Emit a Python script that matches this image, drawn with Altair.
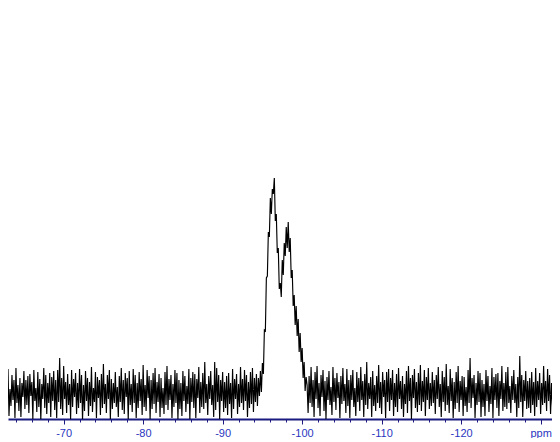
import altair as alt
import pandas as pd

# ppm grid of the spectrum (start value and spacing)
ppm_start = -62.5
ppm_step = 0.125

# baseline noise left of the resonance (-62.5 ... -94.375 ppm)
noise_left = [
    6, -16, 19, -10, 23, -24, 3, -14, 17, -8, 12, -26, 24, -11, 7, -19,
    14, -25, 9, -5, 21, -17, 12, -13, 16, -21, 18, -4, 10, -27, 22, -9,
    4, -20, 20, -15, 13, -28, 8, -7, 24, -16, 17, -22, 9, -11, 19, -25,
    15, -9, 21, -18, 12, -26, 22, -10, 34, -17, 14, -23, 26, -7, 10, -21,
    18, -13, 8, -27, 22, -15, 13, -5, 19, -22, 9, -16, 23, -11, 17, -28,
    7, -19, 21, -9, 14, -24, 10, -14, 25, -20, 4, -10, 20, -26, 15, -6,
    12, -23, 18, -16, 28, -12, 8, -21, 17, -7, 22, -27, 13, -17, 9, -11,
    20, -15, 5, -25, 16, -10, 24, -18, 12, -22, 19, -5, 14, -28, 21, -13,
    8, -20, 23, -11, 17, -26, 9, -16, 20, -9, 13, -23, 27, -15, 7, -19,
    22, -6, 16, -27, 12, -17, 19, -12, 24, -21, 10, -10, 18, -25, 14, -16,
    4, -22, 20, -13, 26, -18, 13, -8, 17, -26, 8, -15, 22, -11, 19, -27,
    12, -17, 9, -24, 21, -9, 16, -20, 6, -12, 23, -28, 14, -10, 20, -16,
    18, -26, 13, -6, 25, -21, 10, -15, 19, -17, 30, -11, 8, -23, 16, -7,
    21, -13, 7, -25, 30, -18, 24, -10, 17, -27, 12, -9, 20, -20, 10, -16,
    16, -23, 19, -12, 9, -26, 23, -17, 13, -7, 18, -22, 8, -15, 25, -11,
    13, -18, 22, -9, 17, -25, 10, -16, 20, -12, 24, -20, 14, -10, 18, -14,
]

# the resonance (-94.5 ... -100.5 ppm)
peak = [
    14, -4, 21, 0, 29, 18, 62, 61, 114, 116, 160, 155, 194, 178, 203, 198,
    214, 171, 178, 139, 144, 103, 109, 95, 132, 117, 149, 136, 165, 144,
    170, 140, 154, 114, 122, 86, 97, 67, 86, 56, 73, 40, 59, 30, 44, 14,
    30, 1, 15,
]

# baseline noise right of the resonance (-100.625 ... -131.75 ppm)
noise_right = [
    7, -21, 16, -11, 25, -15, 12, -25, 20, -7, 26, -16, 9, -24, 17, -5,
    22, -19, 11, -27, 15, -8, 21, -13, 5, -23, 25, -10, 14, -18, 19, -6,
    10, -26, 16, -12, 24, -9, 8, -21, 23, -14, 12, -26, 17, -8, 22, -15,
    4, -24, 20, -10, 14, -19, 25, -8, 11, -25, 18, -13, 30, -17, 9, -7,
    15, -25, 21, -14, 7, -19, 16, -11, 27, -16, 10, -22, 20, -5, 12, -26,
    20, -10, 23, -19, 14, -8, 22, -24, 9, -15, 18, -20, 24, -7, 11, -17,
    16, -25, 8, -12, 21, -21, 26, -9, 14, -27, 17, -6, 23, -16, 10, -20,
    19, -13, 27, -19, 11, -10, 22, -24, 15, -8, 24, -17, 9, -14, 20, -11,
    12, -22, 17, -7, 25, -15, 8, -25, 21, -10, 15, -19, 28, -13, 6, -21,
    23, -9, 14, -26, 10, -17, 20, -11, 26, -20, 11, -8, 16, -24, 15, -14,
    5, -20, 22, -11, 34, -16, 14, -6, 17, -26, 9, -13, 21, -10, 19, -25,
    12, -15, 8, -24, 22, -9, 16, -20, 6, -12, 24, -26, 15, -8, 18, -16,
    19, -24, 11, -7, 26, -19, 9, -15, 20, -17, 25, -11, 6, -21, 16, -8,
    22, -11, 8, -25, 15, -16, 36, -10, 17, -25, 12, -9, 21, -17, 11, -16,
    14, -21, 20, -13, 10, -24, 24, -15, 11, -8, 19, -22, 9, -13, 26, -11,
    11, -19, 23, -9, 17, -22, 9, -14, 21, -12,
]

tick_values = list(range(-64, -131, -2))

intensity = noise_left + peak + noise_right
ppm = [ppm_start - i * ppm_step for i in range(len(intensity))]
df = pd.DataFrame({"ppm": ppm, "intensity": intensity})

x_axis = alt.Axis(
    values=tick_values,
    labelExpr="datum.value % 10 === 0 ? (datum.value == -130 ? 'ppm' : '-' + abs(datum.value)) : ''",
    tickSize={"condition": {"test": "datum.value % 10 === 0", "value": 5}, "value": 3},
    labelColor="#2a36c0",
    domainColor="#1a1a80",
    tickColor="#1a1a80",
    domainWidth=2,
    tickWidth=1,
    labelFont="Liberation Sans",
    labelFontSize=11,
    labelPadding=3,
    labelOverlap=False,
    labelFlush=False,
    grid=False,
    title=None,
)

line = alt.Chart(df).mark_line(color="#000000", strokeWidth=1.15, clip=True).encode(
    x=alt.X("ppm:Q", scale=alt.Scale(domain=[-131.43, -63], reverse=True, nice=False, zero=False), axis=x_axis),
    y=alt.Y("intensity:Q", scale=alt.Scale(domain=[-27, 384], nice=False, zero=False), axis=None),
    order="ppm:Q",
)

chart = (
    line
    .properties(
        width=544,
        height=411,
        padding={"left": 0, "top": 0, "right": 0, "bottom": 19},
        autosize=alt.AutoSizeParams(type="none"),
        background="white",
    )
    .configure_view(stroke=None)
)

chart.save("out.html", embed_options={"renderer": "svg", "actions": False})
